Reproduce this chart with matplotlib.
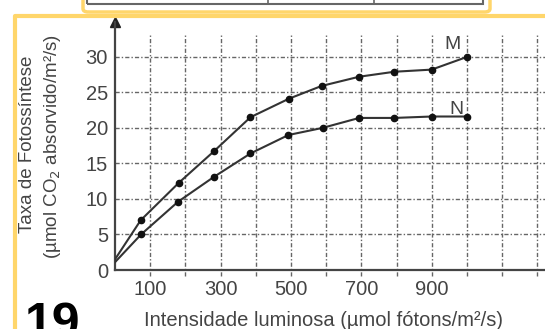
import matplotlib.pyplot as plt
import matplotlib.patches as patches
import numpy as np

plt.rcParams['font.family'] = ['Liberation Sans', 'DejaVu Sans']

# curve M
m_x = [0, 73, 182, 281, 385, 494, 587, 694, 794, 900, 1001]
m_y = [1.5, 7.0, 12.3, 16.7, 21.5, 24.1, 25.9, 27.2, 27.9, 28.2, 30.0]
# curve N
n_x = [0, 74, 179, 281, 385, 493, 590, 694, 794, 900, 1001]
n_y = [1.1, 5.0, 9.6, 13.1, 16.4, 19.0, 20.0, 21.4, 21.4, 21.6, 21.6]

xticks = [100, 300, 500, 700, 900]
ygrid = [5, 10, 15, 20, 25, 30]
xgrid = [100, 200, 300, 400, 500, 600, 700, 800, 900, 1000, 1100, 1200]

W, H = 545, 329
fig = plt.figure(figsize=(W / 100, H / 100), dpi=100)

# yellow frames of the page scan
yel = '#FFD66B'
fig.add_artist(patches.FancyBboxPatch((83 / W, 1 - 12 / H), (490 - 83) / W, 20 / H,
                                      boxstyle='round,pad=0,rounding_size=0.01',
                                      transform=fig.transFigure, fill=False, ec=yel, lw=2.5))
fig.add_artist(patches.Rectangle((87 / W, 1 - 4 / H), (483 - 87) / W, 10 / H,
                                 transform=fig.transFigure, fill=False, ec='#666666', lw=1.5))
for xd in [268, 374]:
    fig.add_artist(plt.Line2D([xd / W, xd / W], [1 - 4 / H, 1], transform=fig.transFigure,
                              color='#666666', lw=1.2))
fig.add_artist(plt.Line2D([15 / W, 15 / W, 1.0], [0, 1 - 16 / H, 1 - 16 / H],
                          transform=fig.transFigure, color=yel, lw=3, zorder=5))

ax = fig.add_axes([115 / W, (H - 270) / H, (W - 115) / W, (270 - 22) / H])
ax.patch.set_alpha(0)
ax.set_xlim(0, 1222)
ax.set_ylim(0, 34.9)

for s in ['top', 'right']:
    ax.spines[s].set_visible(False)
for s in ['left', 'bottom']:
    ax.spines[s].set_color('#444444')
    ax.spines[s].set_linewidth(1.6)
ax.plot(0, 1, marker='^', color='#222222', ms=7, transform=ax.transAxes, clip_on=False)

gcol = '#666666'
ax.hlines(ygrid, 0, 1222, colors=gcol, linestyles=(0, (3, 1.5, 1, 1.5)), lw=1.0, zorder=1)
ax.vlines(xgrid, -0.8, 33.1, colors=gcol, linestyles=(0, (3, 1.5, 1, 1.5)), lw=1.0,
          zorder=1, clip_on=False)

ax.plot(m_x, m_y, color='#333333', lw=1.5, zorder=3)
ax.plot(m_x[1:], m_y[1:], 'o', color='#111111', ms=4.5, zorder=4)
ax.plot(n_x, n_y, color='#333333', lw=1.5, zorder=3)
ax.plot(n_x[1:], n_y[1:], 'o', color='#111111', ms=4.5, zorder=4)

ax.text(958, 31.8, 'M', fontsize=14, color='#444444', ha='center', va='center')
ax.text(970, 22.6, 'N', fontsize=14, color='#444444', ha='center', va='center')

ax.set_xticks(xticks)
ax.set_yticks([0] + ygrid)
ax.tick_params(length=0, labelsize=14.5, labelcolor='#444444', pad=7)
ax.tick_params(axis='y', pad=5)

fig.text(323 / W, 1 - 321 / H, 'Intensidade luminosa (µmol fótons/m²/s)', fontsize=14.5,
         color='#444444', ha='center', va='center')
fig.text(28 / W, 1 - 144 / H, 'Taxa de Fotossíntese', fontsize=13.5, rotation=90,
         color='#444444', ha='center', va='center')
fig.text(53 / W, 1 - 147 / H, '(µmol CO$_2$ absorvido/m²/s)', fontsize=13.5, rotation=90,
         color='#444444', ha='center', va='center')

fig.text(25 / W, 1 - 302 / H, '19', fontsize=36, fontweight='bold', color='black',
         ha='left', va='top')

fig.savefig('out.png', dpi=100)
